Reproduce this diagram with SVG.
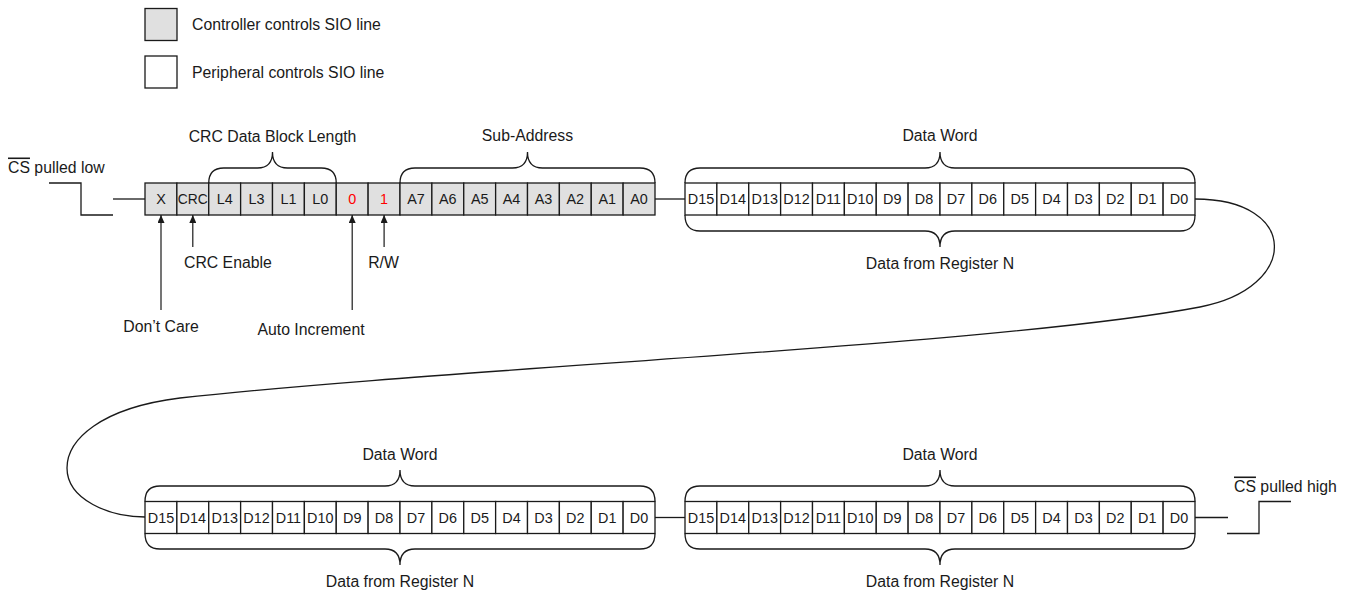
<svg xmlns="http://www.w3.org/2000/svg" width="1348" height="590" viewBox="0 0 1348 590">
<defs>
<style>
.t{font-family:"Liberation Sans",Arial,sans-serif;font-size:15.8px;fill:#1a1a1a}
.c{font-family:"Liberation Sans",Arial,sans-serif;font-size:14.4px;fill:#1a1a1a;text-anchor:middle}
.m{text-anchor:middle}
.red{fill:#ff0000}
.g{fill:#e0e0e0;stroke:#1a1a1a;stroke-width:1.3}
.w{fill:#ffffff;stroke:#1a1a1a;stroke-width:1.3}
.ln{fill:none;stroke:#1a1a1a;stroke-width:1.3}
.ar{fill:none;stroke:#1a1a1a;stroke-width:1.2;marker-end:url(#ah)}
.ol{text-decoration:overline}
</style>
<marker id="ah" markerWidth="8" markerHeight="7" refX="8" refY="3.5" orient="auto" markerUnits="userSpaceOnUse">
<path d="M0,0 L8,3.5 L0,7 z" fill="#1a1a1a"/>
</marker>
</defs>
<rect width="1348" height="590" fill="#ffffff"/>

<g id="legend">
<g id="legend-controller">
<rect class="g" x="145" y="8.5" width="32" height="32"/>
<text class="t" x="192" y="30">Controller controls SIO line</text>
</g>
<g id="legend-peripheral">
<rect class="w" x="145" y="56" width="32" height="32"/>
<text class="t" x="192" y="77.5">Peripheral controls SIO line</text>
</g>
</g>

<g id="cs-low">
<text class="t" x="8" y="172.5"><tspan class="ol">CS</tspan> pulled low</text>
<path class="ln" d="M49,183 L81,183 L81,215 L113,215"/>
</g>

<g id="cs-high">
<text class="t" x="1234" y="491.5"><tspan class="ol">CS</tspan> pulled high</text>
<path class="ln" d="M1227,533.5 L1259,533.5 L1259,501.5 L1291,501.5"/>
</g>

<g id="command-word">
<g id="bit-x"><rect class="g" x="145" y="183" width="31.875" height="32"/><text class="c" x="160.94" y="204.2">X</text></g>
<g id="bit-crc"><rect class="g" x="176.875" y="183" width="31.875" height="32"/><text class="c" x="192.81" y="204.2" style="font-size:13.8px">CRC</text></g>
<g id="field-length">
<rect class="g" x="208.75" y="183" width="31.875" height="32"/><text class="c" x="224.69" y="204.2">L4</text>
<rect class="g" x="240.625" y="183" width="31.875" height="32"/><text class="c" x="256.56" y="204.2">L3</text>
<rect class="g" x="272.5" y="183" width="31.875" height="32"/><text class="c" x="288.44" y="204.2">L1</text>
<rect class="g" x="304.375" y="183" width="31.875" height="32"/><text class="c" x="320.31" y="204.2">L0</text>
</g>
<g id="bit-autoinc"><rect class="g" x="336.25" y="183" width="31.875" height="32"/><text class="c red" x="352.19" y="204.2">0</text></g>
<g id="bit-rw"><rect class="g" x="368.125" y="183" width="31.875" height="32"/><text class="c red" x="384.06" y="204.2">1</text></g>
<g id="field-subaddress">
<rect class="g" x="400" y="183" width="31.875" height="32"/><text class="c" x="415.94" y="204.2">A7</text>
<rect class="g" x="431.875" y="183" width="31.875" height="32"/><text class="c" x="447.81" y="204.2">A6</text>
<rect class="g" x="463.75" y="183" width="31.875" height="32"/><text class="c" x="479.69" y="204.2">A5</text>
<rect class="g" x="495.625" y="183" width="31.875" height="32"/><text class="c" x="511.56" y="204.2">A4</text>
<rect class="g" x="527.5" y="183" width="31.875" height="32"/><text class="c" x="543.44" y="204.2">A3</text>
<rect class="g" x="559.375" y="183" width="31.875" height="32"/><text class="c" x="575.31" y="204.2">A2</text>
<rect class="g" x="591.25" y="183" width="31.875" height="32"/><text class="c" x="607.19" y="204.2">A1</text>
<rect class="g" x="623.125" y="183" width="31.875" height="32"/><text class="c" x="639.06" y="204.2">A0</text>
</g>
<path class="ln" d="M208.75,183 Q208.75,168 223.75,168 L257.5,168 Q272.5,168 272.5,152 Q272.5,168 287.5,168 L321.25,168 Q336.25,168 336.25,183"/>
<text class="t m" x="272.5" y="141.5">CRC Data Block Length</text>
<path class="ln" d="M400,183 Q400,168 415,168 L512.5,168 Q527.5,168 527.5,152 Q527.5,168 542.5,168 L640,168 Q655,168 655,183"/>
<text class="t m" x="527.5" y="141">Sub-Address</text>
</g>

<g id="annotations">
<text class="t m" x="161" y="332">Don’t Care</text>
<text class="t" x="184" y="268.4">CRC Enable</text>
<text class="t m" x="311" y="334.5">Auto Increment</text>
<text class="t m" x="383.5" y="268.4">R/W</text>
</g>

<g id="data-word-1">
<rect class="w" x="685" y="183" width="31.875" height="32"/><text class="c" x="700.94" y="204.2">D15</text>
<rect class="w" x="716.875" y="183" width="31.875" height="32"/><text class="c" x="732.81" y="204.2">D14</text>
<rect class="w" x="748.75" y="183" width="31.875" height="32"/><text class="c" x="764.69" y="204.2">D13</text>
<rect class="w" x="780.625" y="183" width="31.875" height="32"/><text class="c" x="796.56" y="204.2">D12</text>
<rect class="w" x="812.5" y="183" width="31.875" height="32"/><text class="c" x="828.44" y="204.2">D11</text>
<rect class="w" x="844.375" y="183" width="31.875" height="32"/><text class="c" x="860.31" y="204.2">D10</text>
<rect class="w" x="876.25" y="183" width="31.875" height="32"/><text class="c" x="892.19" y="204.2">D9</text>
<rect class="w" x="908.125" y="183" width="31.875" height="32"/><text class="c" x="924.06" y="204.2">D8</text>
<rect class="w" x="940" y="183" width="31.875" height="32"/><text class="c" x="955.94" y="204.2">D7</text>
<rect class="w" x="971.875" y="183" width="31.875" height="32"/><text class="c" x="987.81" y="204.2">D6</text>
<rect class="w" x="1003.75" y="183" width="31.875" height="32"/><text class="c" x="1019.69" y="204.2">D5</text>
<rect class="w" x="1035.625" y="183" width="31.875" height="32"/><text class="c" x="1051.56" y="204.2">D4</text>
<rect class="w" x="1067.5" y="183" width="31.875" height="32"/><text class="c" x="1083.44" y="204.2">D3</text>
<rect class="w" x="1099.375" y="183" width="31.875" height="32"/><text class="c" x="1115.31" y="204.2">D2</text>
<rect class="w" x="1131.25" y="183" width="31.875" height="32"/><text class="c" x="1147.19" y="204.2">D1</text>
<rect class="w" x="1163.125" y="183" width="31.875" height="32"/><text class="c" x="1179.06" y="204.2">D0</text>
<path class="ln" d="M685,183 Q685,168 700,168 L925,168 Q940,168 940,152 Q940,168 955,168 L1180,168 Q1195,168 1195,183"/>
<path class="ln" d="M685,215 Q685,231 700,231 L925,231 Q940,231 940,247 Q940,231 955,231 L1180,231 Q1195,231 1195,215"/>
<text class="t m" x="940" y="141">Data Word</text>
<text class="t m" x="940" y="269">Data from Register N</text>
</g>

<g id="data-word-2">
<rect class="w" x="145" y="501.5" width="31.875" height="32"/><text class="c" x="160.94" y="522.7">D15</text>
<rect class="w" x="176.875" y="501.5" width="31.875" height="32"/><text class="c" x="192.81" y="522.7">D14</text>
<rect class="w" x="208.75" y="501.5" width="31.875" height="32"/><text class="c" x="224.69" y="522.7">D13</text>
<rect class="w" x="240.625" y="501.5" width="31.875" height="32"/><text class="c" x="256.56" y="522.7">D12</text>
<rect class="w" x="272.5" y="501.5" width="31.875" height="32"/><text class="c" x="288.44" y="522.7">D11</text>
<rect class="w" x="304.375" y="501.5" width="31.875" height="32"/><text class="c" x="320.31" y="522.7">D10</text>
<rect class="w" x="336.25" y="501.5" width="31.875" height="32"/><text class="c" x="352.19" y="522.7">D9</text>
<rect class="w" x="368.125" y="501.5" width="31.875" height="32"/><text class="c" x="384.06" y="522.7">D8</text>
<rect class="w" x="400" y="501.5" width="31.875" height="32"/><text class="c" x="415.94" y="522.7">D7</text>
<rect class="w" x="431.875" y="501.5" width="31.875" height="32"/><text class="c" x="447.81" y="522.7">D6</text>
<rect class="w" x="463.75" y="501.5" width="31.875" height="32"/><text class="c" x="479.69" y="522.7">D5</text>
<rect class="w" x="495.625" y="501.5" width="31.875" height="32"/><text class="c" x="511.56" y="522.7">D4</text>
<rect class="w" x="527.5" y="501.5" width="31.875" height="32"/><text class="c" x="543.44" y="522.7">D3</text>
<rect class="w" x="559.375" y="501.5" width="31.875" height="32"/><text class="c" x="575.31" y="522.7">D2</text>
<rect class="w" x="591.25" y="501.5" width="31.875" height="32"/><text class="c" x="607.19" y="522.7">D1</text>
<rect class="w" x="623.125" y="501.5" width="31.875" height="32"/><text class="c" x="639.06" y="522.7">D0</text>
<path class="ln" d="M145,501.5 Q145,486 160,486 L385,486 Q400,486 400,470 Q400,486 415,486 L640,486 Q655,486 655,501.5"/>
<path class="ln" d="M145,533.5 Q145,549 160,549 L385,549 Q400,549 400,565 Q400,549 415,549 L640,549 Q655,549 655,533.5"/>
<text class="t m" x="400" y="459.5">Data Word</text>
<text class="t m" x="400" y="587">Data from Register N</text>
</g>

<g id="data-word-3">
<rect class="w" x="685" y="501.5" width="31.875" height="32"/><text class="c" x="700.94" y="522.7">D15</text>
<rect class="w" x="716.875" y="501.5" width="31.875" height="32"/><text class="c" x="732.81" y="522.7">D14</text>
<rect class="w" x="748.75" y="501.5" width="31.875" height="32"/><text class="c" x="764.69" y="522.7">D13</text>
<rect class="w" x="780.625" y="501.5" width="31.875" height="32"/><text class="c" x="796.56" y="522.7">D12</text>
<rect class="w" x="812.5" y="501.5" width="31.875" height="32"/><text class="c" x="828.44" y="522.7">D11</text>
<rect class="w" x="844.375" y="501.5" width="31.875" height="32"/><text class="c" x="860.31" y="522.7">D10</text>
<rect class="w" x="876.25" y="501.5" width="31.875" height="32"/><text class="c" x="892.19" y="522.7">D9</text>
<rect class="w" x="908.125" y="501.5" width="31.875" height="32"/><text class="c" x="924.06" y="522.7">D8</text>
<rect class="w" x="940" y="501.5" width="31.875" height="32"/><text class="c" x="955.94" y="522.7">D7</text>
<rect class="w" x="971.875" y="501.5" width="31.875" height="32"/><text class="c" x="987.81" y="522.7">D6</text>
<rect class="w" x="1003.75" y="501.5" width="31.875" height="32"/><text class="c" x="1019.69" y="522.7">D5</text>
<rect class="w" x="1035.625" y="501.5" width="31.875" height="32"/><text class="c" x="1051.56" y="522.7">D4</text>
<rect class="w" x="1067.5" y="501.5" width="31.875" height="32"/><text class="c" x="1083.44" y="522.7">D3</text>
<rect class="w" x="1099.375" y="501.5" width="31.875" height="32"/><text class="c" x="1115.31" y="522.7">D2</text>
<rect class="w" x="1131.25" y="501.5" width="31.875" height="32"/><text class="c" x="1147.19" y="522.7">D1</text>
<rect class="w" x="1163.125" y="501.5" width="31.875" height="32"/><text class="c" x="1179.06" y="522.7">D0</text>
<path class="ln" d="M685,501.5 Q685,486 700,486 L925,486 Q940,486 940,470 Q940,486 955,486 L1180,486 Q1195,486 1195,501.5"/>
<path class="ln" d="M685,533.5 Q685,549 700,549 L925,549 Q940,549 940,565 Q940,549 955,549 L1180,549 Q1195,549 1195,533.5"/>
<text class="t m" x="940" y="459.5">Data Word</text>
<text class="t m" x="940" y="587">Data from Register N</text>
</g>

<g id="connectors">
<path class="ln" d="M113,199 L145,199"/>
<path class="ln" d="M655,199 L685,199"/>
<path class="ln" d="M1195,199 C1300,199 1300,288 1200,307 C1000,345 450,368 180,398 C100,408 67,440 67,468 C67,500 110,517 145,517"/>
<path class="ln" d="M655,517.5 L685,517.5"/>
<path class="ln" d="M1195,517.5 L1228,517.5"/>
<path class="ar" d="M161,310 L161,215"/>
<path class="ar" d="M192.8,247 L192.8,215"/>
<path class="ar" d="M352.2,310 L352.2,215"/>
<path class="ar" d="M384.1,247 L384.1,215"/>
</g>
</svg>
